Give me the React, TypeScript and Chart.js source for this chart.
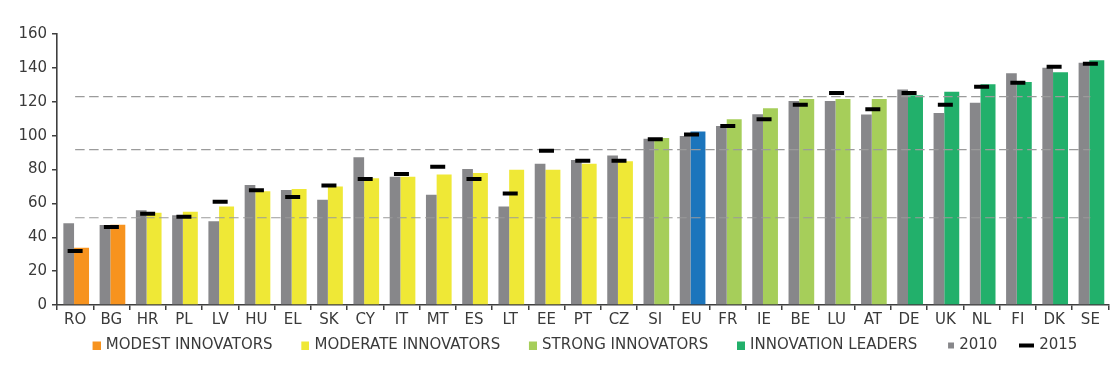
import React, { useEffect, useRef } from 'react';
import { Chart, registerables } from 'chart.js';

Chart.register(...registerables);

const categories = ['RO', 'BG', 'HR', 'PL', 'LV', 'HU', 'EL', 'SK', 'CY', 'IT', 'MT', 'ES', 'LT', 'EE', 'PT', 'CZ', 'SI', 'EU', 'FR', 'IE', 'BE', 'LU', 'AT', 'DE', 'UK', 'NL', 'FI', 'DK', 'SE'];

const groups = ['modest', 'modest', 'moderate', 'moderate', 'moderate', 'moderate', 'moderate', 'moderate', 'moderate', 'moderate', 'moderate', 'moderate', 'moderate', 'moderate', 'moderate', 'moderate', 'strong', 'eu', 'strong', 'strong', 'strong', 'strong', 'strong', 'leader', 'leader', 'leader', 'leader', 'leader', 'leader'];

const values2010 = [48.2, 47.2, 55.9, 53.0, 49.4, 70.8, 67.9, 62.2, 87.3, 75.7, 65.1, 80.3, 58.1, 83.4, 85.6, 88.3, 98.2, 99.8, 105.7, 112.6, 120.4, 120.4, 112.4, 127.3, 113.3, 119.4, 136.8, 140.1, 143.0];

const valuesLatest = [33.8, 47.4, 54.5, 55.1, 58.1, 67.1, 68.5, 70.0, 74.8, 75.7, 77.1, 78.0, 79.9, 79.9, 83.4, 84.8, 98.6, 102.5, 109.6, 116.1, 121.6, 121.6, 121.6, 123.8, 125.9, 130.3, 131.6, 137.4, 144.5];

const values2015 = [31.9, 46.0, 53.9, 52.1, 61.0, 67.7, 63.8, 70.6, 74.4, 77.3, 81.6, 74.4, 65.9, 91.1, 85.2, 85.2, 97.8, 100.7, 105.7, 109.6, 118.3, 125.1, 115.5, 125.1, 118.3, 128.9, 131.2, 140.7, 142.5];

const thresholds = [51.5, 91.7, 123.0];

const yMin = 0;
const yMax = 160;
const yStep = 20;

const groupLegend = [
  { key: 'modest', label: 'MODEST INNOVATORS' },
  { key: 'moderate', label: 'MODERATE INNOVATORS' },
  { key: 'strong', label: 'STRONG INNOVATORS' },
  { key: 'leader', label: 'INNOVATION LEADERS' },
];
const label2010 = '2010';
const label2015 = '2015';

const groupColors: Record<string, string> = {
  modest: '#F7931E',
  moderate: '#EFE836',
  strong: '#A6CE5A',
  leader: '#22B06B',
  eu: '#1C75BC',
};
const grey = '#87878A';
const markColor = '#000000';
const textColor = '#3A3A3A';
const axisColor = '#3F3F3F';
const FONT = 'DejaVu Sans';
const FONT_SIZE = 15;
const BOX_W = 24.3;
const W = 1120;
const H = 368;

function makeMarker(color: string, mw: number, mh: number) {
  const c = document.createElement('canvas');
  const w = Math.round(BOX_W + 5);
  const h = 9;
  c.width = w;
  c.height = h;
  const ctx = c.getContext('2d')!;
  ctx.fillStyle = color;
  ctx.fillRect(w - mw, Math.round((h - mh) / 2), mw, mh);
  return c;
}

export default function App() {
  const ref = useRef<HTMLCanvasElement | null>(null);

  useEffect(() => {
    if (!ref.current) return;

    const item = (text: string, color: string, mw: number, mh: number) => ({
      text,
      pointStyle: makeMarker(color, mw, mh),
      fillStyle: color,
      strokeStyle: 'rgba(0,0,0,0)',
      lineWidth: 0,
      hidden: false,
      fontColor: textColor,
    });

    const legendItems = [
      ...groupLegend.map((g) => item(g.label, groupColors[g.key], 8, 8)),
      item(label2010, grey, 6, 6),
      item(label2015, markColor, 15, 4),
    ];

    const thresholdSets = thresholds.map((t) => ({
      type: 'line' as const,
      label: 'threshold ' + t,
      data: [
        { x: categories[0], y: t },
        { x: categories[categories.length - 1], y: t },
      ],
      borderColor: '#9B9B9B',
      borderWidth: 1.2,
      borderDash: [9.5, 4.5],
      pointRadius: 0,
      fill: false,
      order: 1,
    }));

    const chart = new Chart(ref.current, {
      type: 'bar',
      data: {
        labels: categories,
        datasets: [
          {
            type: 'bar',
            label: label2010,
            data: values2010,
            backgroundColor: grey,
            categoryPercentage: 0.708,
            barPercentage: 0.833,
            order: 5,
          },
          {
            type: 'bar',
            label: 'latest',
            data: valuesLatest,
            backgroundColor: groups.map((g) => groupColors[g]),
            categoryPercentage: 0.708,
            barPercentage: 1.167,
            order: 5,
          },
          ...thresholdSets,
          {
            type: 'line',
            label: label2015,
            data: values2015,
            showLine: false,
            pointStyle: 'line',
            pointRadius: 7.5,
            pointBorderWidth: 4,
            borderColor: markColor,
            pointBorderColor: markColor,
            order: 0,
          },
        ] as any,
      },
      options: {
        responsive: false,
        animation: false,
        events: [],
        layout: { padding: { left: 42.2, right: 11, top: 34, bottom: 5.5 } },
        plugins: {
          tooltip: { enabled: false },
          legend: {
            position: 'bottom',
            align: 'center',
            onClick: () => {},
            labels: {
              usePointStyle: true,
              pointStyleWidth: BOX_W,
              padding: 10,
              color: textColor,
              font: { size: FONT_SIZE, family: FONT },
              generateLabels: () => legendItems as any,
            },
          },
        },
        scales: {
          x: {
            type: 'category',
            offset: true,
            afterFit: (s: any) => {
              s.height = 22.5;
            },
            grid: {
              display: true,
              drawOnChartArea: false,
              drawTicks: true,
              tickLength: 5,
              color: axisColor,
              lineWidth: 1.5,
              offset: true,
            },
            border: { display: true, color: axisColor, width: 1.6 },
            ticks: {
              color: textColor,
              font: { size: FONT_SIZE, family: FONT },
              padding: 1,
              maxRotation: 0,
              autoSkip: false,
            },
          },
          y: {
            min: yMin,
            max: yMax,
            afterFit: (s: any) => {
              s.width = 14.8;
            },
            grid: {
              display: true,
              drawOnChartArea: false,
              drawTicks: true,
              tickLength: 5,
              color: axisColor,
              lineWidth: 1.5,
            },
            border: { display: true, color: axisColor, width: 1.6 },
            ticks: {
              stepSize: yStep,
              color: textColor,
              font: { size: FONT_SIZE, family: FONT },
              mirror: true,
              crossAlign: 'far',
              padding: -38.6,
            },
          },
        },
      },
    });

    return () => chart.destroy();
  }, []);

  return (
    <div style={{ position: 'absolute', left: 0, top: 0, width: W, height: H }}>
      <canvas ref={ref} width={W} height={H} style={{ display: 'block' }} />
    </div>
  );
}
